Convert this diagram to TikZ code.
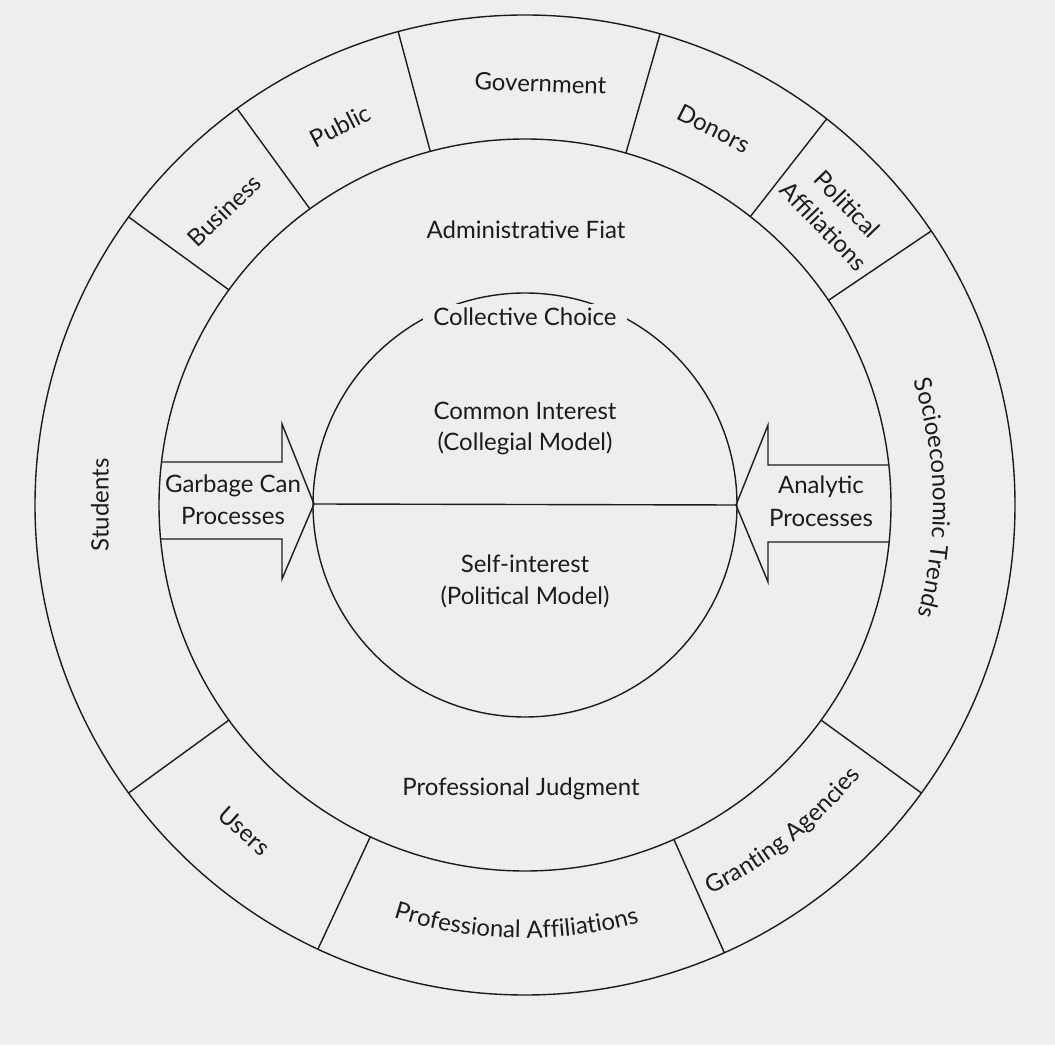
\documentclass[tikz,border=0pt]{standalone}
\usepackage{fontspec}
\setmainfont{Lato}
\usetikzlibrary{decorations.text}
\definecolor{paper}{RGB}{238,238,236}
\definecolor{ink}{RGB}{28,28,28}
\newcommand\lblfont{\fontsize{24}{32}\selectfont}
\tikzset{
  ringc/.style={circle, draw=ink, line width=1.4pt, inner sep=0pt, outer sep=0pt},
  edge/.style={draw=ink, line width=1.4pt},
  lbl/.style={font=\lblfont, text=ink, inner sep=0pt, anchor=base},
  rlbl/.style={font=\lblfont, text=ink, inner sep=0pt, align=center},
}
% text along an arc, tops of letters pointing outwards
\newcommand\outlabel[3]{%
  \path[decorate, decoration={text along path, text={|\lblfont\color{ink}|#3}, text align=center}]
    ({#1+45}:#2pt) arc[start angle={#1+45}, end angle={#1-45}, radius=#2pt];}
% text along an arc, tops of letters pointing inwards
\newcommand\inlabel[3]{%
  \path[decorate, decoration={text along path, text={|\lblfont\color{ink}|#3}, text align=center}]
    ({#1-45}:#2pt) arc[start angle={#1-45}, end angle={#1+45}, radius=#2pt];}
\begin{document}
\begin{tikzpicture}[x=1pt, y=1pt]
\useasboundingbox (0,0) rectangle (1055,1045);
\fill[paper] (0,0) rectangle (1055,1045);

\begin{scope}[shift={(525,540)}]
  % circles
  \node[ringc, minimum size=980pt] (outer) at (0,0) {};
  \node[ringc, minimum size=732pt] (mid) at (0,0) {};
  \node[ringc, minimum size=424pt] (inner) at (0,0) {};
  % radial dividers of the outer ring
  \foreach \a in {144.5,126,105,74,52.5,34.2,-36,-66.5,-115,-144.8}
    \draw[edge] (mid.\a) -- (outer.\a);
  % ring labels
  \node[rlbl, rotate=90] (students) at (180:425) {Students};
  \node[rlbl, rotate=44] (business) at (135.6:421) {Business};
  \node[rlbl, rotate=27] (public) at (116:422) {Public};
  \node[rlbl, rotate=-2.1] (govt) at (87.9:422) {Government};
  \node[rlbl, rotate=-27] (donors) at (63.4:421) {Donors};
  \node[rlbl, rotate=-46] (polaff) at (43:425) {Political\\Affiliations};
  \node[rlbl, rotate=-42] (users) at (-130.7:430) {Users};
  \outlabel{1}{408}{Socioeconomic Trends}
  \inlabel{-51.7}{431}{Granting Agencies}
  \inlabel{-91.2}{433}{Professional Affiliations}
\end{scope}

% arrows
\coordinate (gtip) at (314,541);
\coordinate (atip) at (736,540);
\draw[edge, line join=miter] (161,583) -- (282,583) -- (282,621) -- (gtip) -- (282,466) -- (282,506) -- (161,506);
\draw[edge, line join=miter] (889,580) -- (768,580) -- (768,620) -- (atip) -- (768,463) -- (768,503) -- (889,503);
\draw[edge] (gtip) -- (atip);

% inner texts
\node[lbl] (admin) at (526,806) {Administrative Fiat};
\node[lbl, fill=paper, inner xsep=10pt, inner ysep=4pt] (coll) at (525,719) {Collective Choice};
\node[lbl] (ci1) at (525,625) {Common Interest};
\node[lbl] (ci2) at (525,594) {(Collegial Model)};
\node[lbl] (si1) at (525,472) {Self-interest};
\node[lbl] (si2) at (525,440) {(Political Model)};
\node[lbl] (gc1) at (233,552) {Garbage Can};
\node[lbl] (gc2) at (233,520) {Processes};
\node[lbl] (an1) at (821,551) {Analytic};
\node[lbl] (an2) at (821,518) {Processes};
\node[lbl] (pj) at (521,249) {Professional Judgment};
\end{tikzpicture}
\end{document}
